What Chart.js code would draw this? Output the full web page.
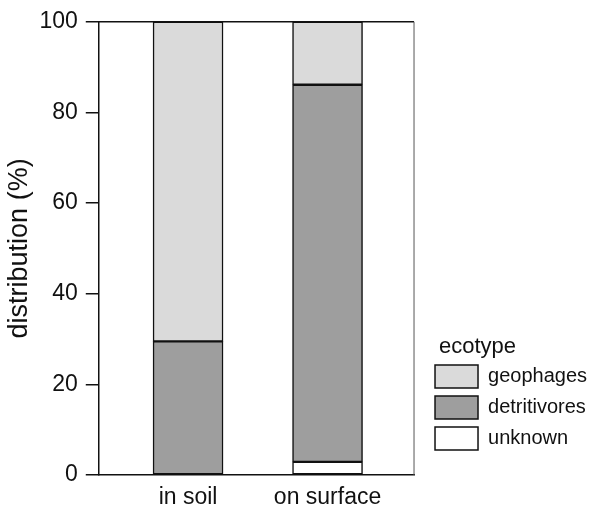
<!DOCTYPE html>
<html>
<head>
<meta charset="utf-8">
<script src="https://cdn.jsdelivr.net/npm/chart.js@4"></script>
<style>
  html, body { margin: 0; padding: 0; background: #fff; }
  #wrap { width: 591px; height: 507px; }
</style>
</head>
<body>
<div id="wrap"><canvas id="chart" width="591" height="507"></canvas></div>
<script>
const categories = ['in soil', 'on surface'];
const unknown = [0, 2.9];
const detritivores = [29.5, 83.2];
const geophages = [70.5, 13.9];
const yTicks = [0, 20, 40, 60, 80, 100];
const legendTitle = 'ecotype';

const FONT = 'Liberation Sans, Arial, sans-serif';
const toPoints = (vals) => vals.map((v, i) => ({ x: i, y: v }));

const bar = (label, vals, color) => ({
  label: label,
  data: toPoints(vals),
  backgroundColor: color,
  borderColor: '#111',
  borderWidth: 1.5,
  borderSkipped: false,
  barThickness: 70,
});

// box round the plot area, legend nudged away from the plot, legend title
const frame = {
  id: 'frame',
  afterLayout(chart) {
    const lg = chart.legend;
    const w = lg.width;
    lg.left += 13;
    lg.right = lg.left + w;
    lg.bottom = chart.chartArea.bottom - 17;
  },
  afterDraw(chart) {
    const { ctx, chartArea: a } = chart;
    ctx.save();
    ctx.strokeStyle = '#111';
    ctx.lineWidth = 1.5;
    ctx.beginPath();
    ctx.moveTo(a.left, a.top);
    ctx.lineTo(a.right, a.top);
    ctx.stroke();
    ctx.strokeStyle = '#555';
    ctx.lineWidth = 1;
    ctx.beginPath();
    ctx.moveTo(a.right, a.top);
    ctx.lineTo(a.right, a.bottom);
    ctx.stroke();
    ctx.fillStyle = '#111';
    ctx.font = '22px ' + FONT;
    ctx.textBaseline = 'alphabetic';
    ctx.fillText(legendTitle, chart.legend.left + 12, 353);
    ctx.restore();
  }
};

new Chart(document.getElementById('chart'), {
  type: 'bar',
  data: {
    datasets: [
      bar('unknown', unknown, '#ffffff'),
      bar('detritivores', detritivores, '#9e9e9e'),
      bar('geophages', geophages, '#dadada'),
    ],
  },
  options: {
    responsive: false,
    animation: false,
    layout: { padding: { left: -3, top: 14, right: 7, bottom: -13.6 } },
    scales: {
      x: {
        type: 'linear',
        stacked: true,
        offset: false,
        bounds: 'data',
        min: -0.64,
        max: 1.62,
        afterBuildTicks: (s) => { s.ticks = categories.map((c, i) => ({ value: i })); },
        grid: { display: false, drawTicks: false, offset: false },
        border: { display: true, color: '#111', width: 1.5 },
        ticks: {
          color: '#111',
          padding: 9,
          font: { family: FONT, size: 23 },
          callback: (v) => categories[v],
        },
      },
      y: {
        stacked: true,
        min: 0,
        max: 100,
        afterBuildTicks: (s) => { s.ticks = yTicks.map((v) => ({ value: v })); },
        grid: { drawOnChartArea: false, drawTicks: true, tickLength: 13, color: '#111', lineWidth: 1.5 },
        border: { display: true, color: '#111', width: 1.5 },
        ticks: { color: '#111', padding: 8, font: { family: FONT, size: 23 } },
        title: {
          display: true,
          text: 'distribution (%)',
          color: '#111',
          padding: { top: 6, bottom: -4 },
          font: { family: FONT, size: 27 },
        },
      },
    },
    plugins: {
      tooltip: { enabled: false },
      legend: {
        position: 'right',
        align: 'end',
        reverse: true,
        maxWidth: 200,
        labels: {
          color: '#111',
          boxWidth: 43,
          boxHeight: 23,
          padding: 8,
          font: { family: FONT, size: 20 },
        },
      },
    },
  },
  plugins: [frame],
});
</script>
</body>
</html>
